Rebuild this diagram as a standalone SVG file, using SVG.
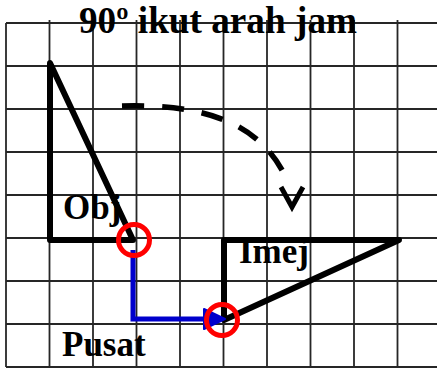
<svg xmlns="http://www.w3.org/2000/svg" width="437" height="368" viewBox="0 0 437 368">
<style>
.grid line{stroke:#262626;stroke-width:1.8}
.shape{fill:none;stroke:#000;stroke-width:6;stroke-linejoin:round;stroke-linecap:round}
.lbl{font-family:"Liberation Serif","Times New Roman",serif;font-weight:bold;font-size:35px;fill:#000}
.ring{fill:none;stroke:#ff0000;stroke-width:5}
</style>
<rect width="437" height="368" fill="#fff"/>
<g id="grid" class="grid">
<line x1="6" y1="23" x2="437" y2="23"/>
<line x1="6" y1="66" x2="437" y2="66"/>
<line x1="6" y1="109" x2="437" y2="109"/>
<line x1="6" y1="152" x2="437" y2="152"/>
<line x1="6" y1="195" x2="437" y2="195"/>
<line x1="6" y1="238" x2="437" y2="238"/>
<line x1="6" y1="281" x2="437" y2="281"/>
<line x1="6" y1="324" x2="437" y2="324"/>
<line x1="6" y1="367" x2="437" y2="367"/>
<line x1="6" y1="23" x2="6" y2="367"/>
<line x1="49.5" y1="20" x2="49.5" y2="367"/>
<line x1="93" y1="20" x2="93" y2="367"/>
<line x1="136.5" y1="20" x2="136.5" y2="367"/>
<line x1="180" y1="20" x2="180" y2="367"/>
<line x1="223.5" y1="20" x2="223.5" y2="367"/>
<line x1="267" y1="20" x2="267" y2="367"/>
<line x1="310.5" y1="20" x2="310.5" y2="367"/>
<line x1="354" y1="20" x2="354" y2="367"/>
<line x1="397.5" y1="20" x2="397.5" y2="367"/>
</g>
<text id="title" class="lbl" x="218" y="33" text-anchor="middle" style="font-size:37px" textLength="278" lengthAdjust="spacingAndGlyphs">90º ikut arah jam</text>
<g id="objek">
<path class="shape" d="M50,63 L50,240 L133,240 Z"/>
<text class="lbl" x="63" y="219">Obj</text>
</g>
<g id="imej">
<path class="shape" d="M224,320 L224,240 L399,240 Z"/>
<text class="lbl" x="239" y="263">Imej</text>
</g>
<g id="pusat">
<text class="lbl" x="62" y="356">Pusat</text>
</g>
<g id="connectors">
<path d="M122,106 C200,104 260,120 287,180" fill="none" stroke="#000" stroke-width="5.5" stroke-dasharray="22 18"/>
<path d="M281,187 L292,207 L303,187" fill="none" stroke="#000" stroke-width="5"/>
<path d="M133,250 V319 H207" fill="none" stroke="#0000cc" stroke-width="5"/>
<polygon points="204,309 225,319 204,329" fill="#0000cc" stroke="#0000cc" stroke-width="2" stroke-linejoin="round"/>
<circle class="ring" cx="134" cy="240" r="15.5"/>
<circle class="ring" cx="222" cy="320" r="15.5"/>
</g>
</svg>
